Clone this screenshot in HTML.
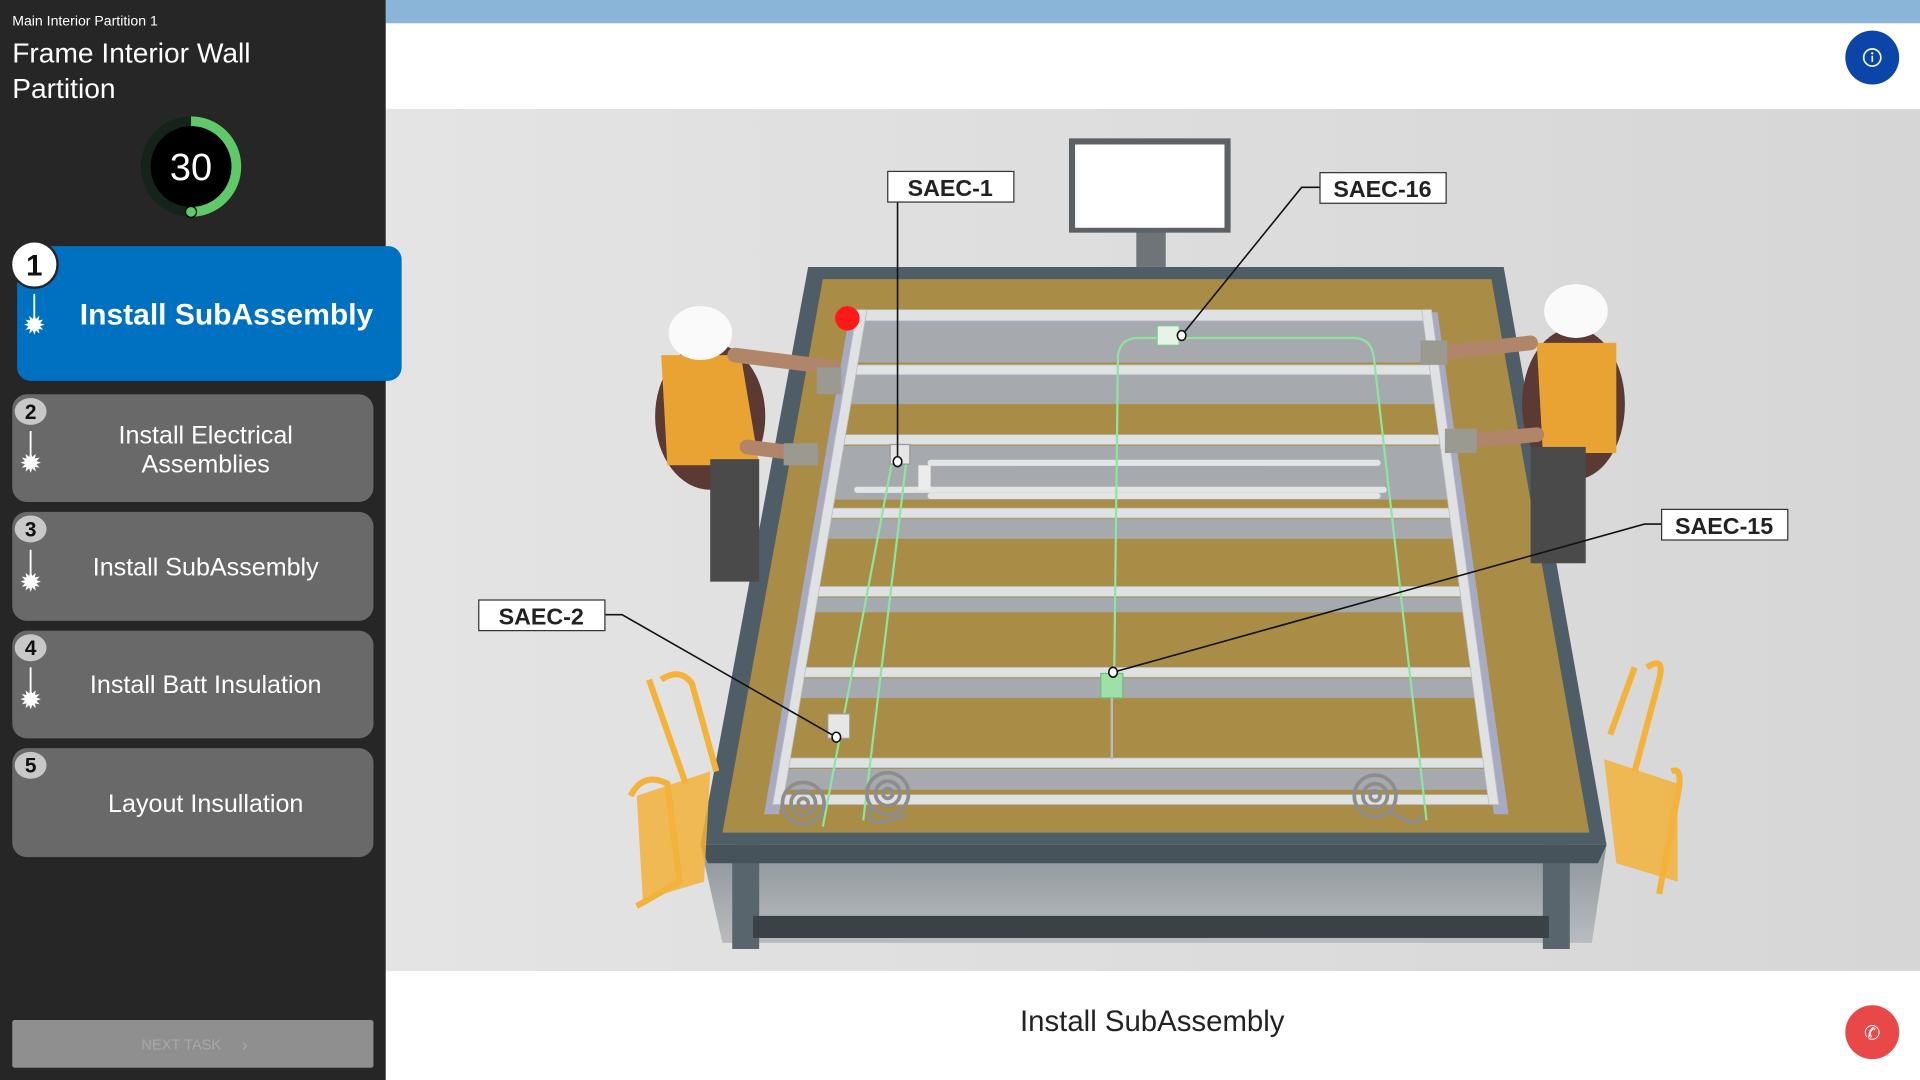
<!DOCTYPE html>
<html><head><meta charset="utf-8"><style>
html,body{margin:0;padding:0;width:1920px;height:1080px;overflow:hidden;background:#fff}
svg{display:block}
</style></head><body>
<svg width="1920" height="1080" viewBox="0 0 1568 882" xmlns="http://www.w3.org/2000/svg" font-family="Liberation Sans, sans-serif">
<defs>
<linearGradient id="bg" x1="0" y1="0" x2="1" y2="0"><stop offset="0" stop-color="#e4e4e4"/><stop offset="1" stop-color="#d6d6d6"/></linearGradient>
<linearGradient id="under" x1="0" y1="0" x2="0" y2="1"><stop offset="0" stop-color="#8c9499"/><stop offset="1" stop-color="#b8bcbf"/></linearGradient>
</defs>
<rect x="315" y="0" width="1253" height="882" fill="#fff"/>
<rect x="315" y="0" width="1253" height="19" fill="#8ab4d8"/>
<rect x="315" y="89" width="1253" height="704" fill="url(#bg)"/>
<circle cx="1529" cy="47" r="22" fill="#0b45a8"/>
<circle cx="1529" cy="47" r="7" fill="none" stroke="#fff" stroke-width="1.3"/>
<rect x="1528.4" y="45.5" width="1.3" height="5" fill="#fff"/><circle cx="1529" cy="43.5" r="0.9" fill="#fff"/>
<circle cx="1529" cy="843" r="22" fill="#e84848"/>
<text x="1529" y="849" font-size="16" fill="#fff" text-anchor="middle">✆</text>
<text x="941" y="842" font-size="24" fill="#222" text-anchor="middle">Install SubAssembly</text>

<polygon points="572,690 1312,690 1300,770 590,770" fill="url(#under)"/>
<rect x="598" y="690" width="22" height="85" fill="#59656d"/>
<rect x="1260" y="690" width="22" height="85" fill="#59656d"/>
<rect x="615" y="748" width="650" height="18" fill="#3a4246"/>
<polygon points="660,218 1228,218 1312,690 572,690" fill="#4f5d66"/>
<polygon points="572,690 1312,690 1305,705 578,705" fill="#46535b"/>
<polygon points="672,228 1218,228 1298,680 590,680" fill="#a98c46"/>
<rect x="928" y="186" width="24" height="32" fill="#6e7478"/>
<rect x="873" y="113" width="132" height="77" fill="#5c6165"/>
<rect x="878" y="118" width="122" height="68" fill="#fff"/>
<polygon points="694,255 704,255 636,665 624,665" fill="#a7aac0"/>
<polygon points="1164,255 1174,255 1232,665 1220,665" fill="#a7aac0"/>
<g fill="#a6aaae">
<polygon points="698,262 1169,262 1173,296 693,296"/>
<polygon points="690,306 1175,306 1179,330 687,330"/>
<polygon points="681,364 1183,364 1187,408 675,408"/>
<polygon points="670,424 1191,424 1193,440 668,440"/>
<polygon points="660,488 1200,488 1202,500 657,500"/>
<polygon points="649,554 1209,554 1211,570 647,570"/>
<polygon points="636,628 1220,628 1222,645 634,645"/>
</g>
<g fill="#dfe1e3" stroke="#b9bcbf" stroke-width="0.6">
<polygon points="699,253 1169,253 1170,262 698,262"/>
<polygon points="692,298 1175,298 1176,306 691,306"/>
<polygon points="682,355 1182,355 1183,363 681,363"/>
<polygon points="672,415 1191,415 1192,423 671,423"/>
<polygon points="661,479 1200,479 1201,487 660,487"/>
<polygon points="650,545 1209,545 1210,553 649,553"/>
<polygon points="637,619 1219,619 1220,627 636,627"/>
<polygon points="632,649 1223,649 1224,657 631,657"/>
<polygon points="700,253 708,253 639,657 631,657"/>
<polygon points="1161,253 1169,253 1224,657 1216,657"/>
</g>
<g stroke="#e3e4e4" stroke-width="5" stroke-linecap="round">
<line x1="760" y1="378" x2="1125" y2="378"/>
<line x1="700" y1="400" x2="1130" y2="400"/>
<line x1="760" y1="405" x2="1125" y2="405"/>
</g>
<rect x="750" y="380" width="10" height="20" fill="#ececec"/>
<g fill="none" stroke="#8fe59f" stroke-width="1.8">
<path d="M741,370 L705,670"/>
<path d="M728,380 L672,675"/>
<path d="M910,545 L913,290 Q915,276 930,276 L1105,276 Q1120,276 1122,292 L1165,670"/>
</g>
<rect x="945" y="266" width="18" height="16" fill="#e9f2ea" stroke="#7ec78a"/>
<rect x="899" y="550" width="18" height="20" fill="#9ee0a8" stroke="#6bbf78"/>
<rect x="727" y="363" width="16" height="16" fill="#e6e6e6" stroke="#999"/>
<rect x="676" y="583" width="18" height="20" fill="#e6e6e6" stroke="#999"/>
<line x1="908" y1="570" x2="908" y2="620" stroke="#bbb" stroke-width="2"/>
<g fill="none" stroke="#8d8d8d" stroke-width="3">
<circle cx="656" cy="656" r="17"/><circle cx="656" cy="656" r="10"/><circle cx="656" cy="656" r="4"/>
<circle cx="725" cy="648" r="17"/><circle cx="725" cy="648" r="10"/><circle cx="725" cy="648" r="4"/>
<circle cx="1123" cy="650" r="17"/><circle cx="1123" cy="650" r="10"/><circle cx="1123" cy="650" r="4"/>
<path d="M710,660 Q705,680 740,665"/><path d="M1135,662 Q1160,680 1160,665"/>
</g>
<circle cx="692" cy="260" r="10" fill="#ff1a1a"/>
<g fill="none" stroke="#f3b23a" stroke-width="5">
<path d="M540,555 Q555,545 565,558 L585,630"/><path d="M530,555 L560,640"/>
<path d="M515,650 Q525,630 545,640 L555,720 L520,740"/>
<path d="M1345,545 Q1360,535 1355,555 L1335,630"/><path d="M1315,600 L1335,545"/>
<path d="M1365,630 Q1375,625 1370,650 L1355,730"/>
</g>
<polygon points="520,650 580,630 575,720 525,735" fill="#f2b13a" opacity="0.85"/>
<polygon points="1310,620 1370,640 1370,720 1320,705" fill="#f2b13a" opacity="0.85"/>
<g>
<ellipse cx="580" cy="340" rx="45" ry="60" fill="#5a3a32"/>
<polygon points="540,290 605,290 620,380 545,380" fill="#e9a332"/>
<rect x="580" y="375" width="40" height="100" fill="#4a4a4a"/>
<path d="M600,290 L680,300 M610,365 L665,372" stroke="#b0856a" stroke-width="12" stroke-linecap="round"/>
<rect x="667" y="300" width="20" height="22" fill="#9a9a90"/><rect x="640" y="362" width="28" height="18" fill="#9a9a90"/>
<ellipse cx="572" cy="272" rx="26" ry="22" fill="#fafafa"/>
<ellipse cx="1285" cy="330" rx="42" ry="62" fill="#5a3a32"/>
<polygon points="1255,280 1320,280 1320,370 1260,370" fill="#e9a332"/>
<rect x="1250" y="365" width="45" height="95" fill="#4a4a4a"/>
<path d="M1250,280 L1180,288 M1255,355 L1200,360" stroke="#b0856a" stroke-width="12" stroke-linecap="round"/>
<rect x="1160" y="278" width="22" height="20" fill="#9a9a90"/><rect x="1180" y="350" width="26" height="20" fill="#9a9a90"/>
<ellipse cx="1287" cy="254" rx="26" ry="22" fill="#fafafa"/>
</g>
<g stroke="#111" stroke-width="1.3" fill="none">
<line x1="733" y1="165" x2="733" y2="377"/>
<polyline points="1078,153 1063,153 965,274"/>
<polyline points="1357,428 1343,428 909,549"/>
<polyline points="494,502 508,502 683,602"/>
</g>
<g fill="#fff" stroke="#111" stroke-width="1.3">
<ellipse cx="733" cy="377" rx="3.5" ry="4"/><ellipse cx="965" cy="274" rx="3.5" ry="4"/>
<ellipse cx="909" cy="549" rx="3.5" ry="4"/><ellipse cx="683" cy="602" rx="3.5" ry="4"/>
</g>
<g fill="#fff" stroke="#333" stroke-width="1">
<rect x="725" y="140" width="103" height="25"/><rect x="1078" y="141" width="103" height="25"/>
<rect x="1357" y="416" width="103" height="25"/><rect x="391" y="490" width="103" height="25"/>
</g>
<g font-size="19" font-weight="bold" fill="#222" text-anchor="middle" font-family="Liberation Sans Narrow, Liberation Sans, sans-serif">
<text x="776" y="160">SAEC-1</text><text x="1129" y="161">SAEC-16</text>
<text x="1408" y="436">SAEC-15</text><text x="442" y="510">SAEC-2</text>
</g>

<rect x="0" y="0" width="315" height="882" fill="#262626"/>
<text x="10" y="21" font-size="11.5" fill="#fff">Main Interior Partition 1</text>
<text x="10" y="51" font-size="23" fill="#fff">Frame Interior Wall</text>
<text x="10" y="80" font-size="23" fill="#fff">Partition</text>
<circle cx="156" cy="136" r="37" fill="none" stroke="#15241a" stroke-width="8"/>
<path d="M156,99 A37,37 0 0 1 156,173" fill="none" stroke="#5fc96a" stroke-width="8"/>
<circle cx="156" cy="136" r="33" fill="#000"/>
<circle cx="156" cy="173" r="4.5" fill="#5fc96a" stroke="#000" stroke-width="1"/>
<text x="156" y="147" font-size="31" fill="#fff" text-anchor="middle">30</text>

<rect x="14" y="201" width="314" height="110" rx="11" fill="#0070c0"/>
<circle cx="28" cy="216" r="19" fill="#fff" stroke="#262626" stroke-width="2"/>
<text x="28" y="225" font-size="24" font-weight="bold" fill="#111" text-anchor="middle">1</text>
<text x="185" y="265" font-size="24.5" font-weight="bold" fill="#fff" text-anchor="middle">Install SubAssembly</text>

<g fill="#696969">
<rect x="10" y="322" width="295" height="88" rx="12"/>
<rect x="10" y="418" width="295" height="89" rx="12"/>
<rect x="10" y="515" width="295" height="88" rx="12"/>
<rect x="10" y="611" width="295" height="89" rx="12"/>
</g>
<g fill="#c8c8c8">
<ellipse cx="25" cy="336" rx="13" ry="11"/><ellipse cx="25" cy="432" rx="13" ry="11"/>
<ellipse cx="25" cy="529" rx="13" ry="11"/><ellipse cx="25" cy="625" rx="13" ry="11"/>
</g>
<g font-size="17" font-weight="bold" fill="#111" text-anchor="middle">
<text x="25" y="342">2</text><text x="25" y="438">3</text><text x="25" y="535">4</text><text x="25" y="631">5</text>
</g>
<g fill="#fff" font-size="20.5" text-anchor="middle">
<text x="168" y="362">Install Electrical</text><text x="168" y="386">Assemblies</text>
<text x="168" y="470">Install SubAssembly</text>
<text x="168" y="566">Install Batt Insulation</text>
<text x="168" y="663">Layout Insullation</text>
</g>
<g stroke="#fff" stroke-width="1.5">
<line x1="28" y1="240" x2="28" y2="265"/><line x1="25" y1="352" x2="25" y2="378"/>
<line x1="25" y1="449" x2="25" y2="475"/><line x1="25" y1="545" x2="25" y2="571"/>
</g>
<g fill="#fff" font-size="22" text-anchor="middle">
<text x="28" y="273">✹</text><text x="25" y="386">✹</text><text x="25" y="483">✹</text><text x="25" y="579">✹</text>
</g>
<rect x="10" y="833" width="295" height="39" fill="#8f8f8f" rx="2"/>
<text x="148" y="857" font-size="12" fill="#a8a8a8" text-anchor="middle">NEXT TASK</text>
<text x="200" y="858" font-size="14" fill="#a8a8a8" text-anchor="middle">›</text>
</svg>
</body></html>
